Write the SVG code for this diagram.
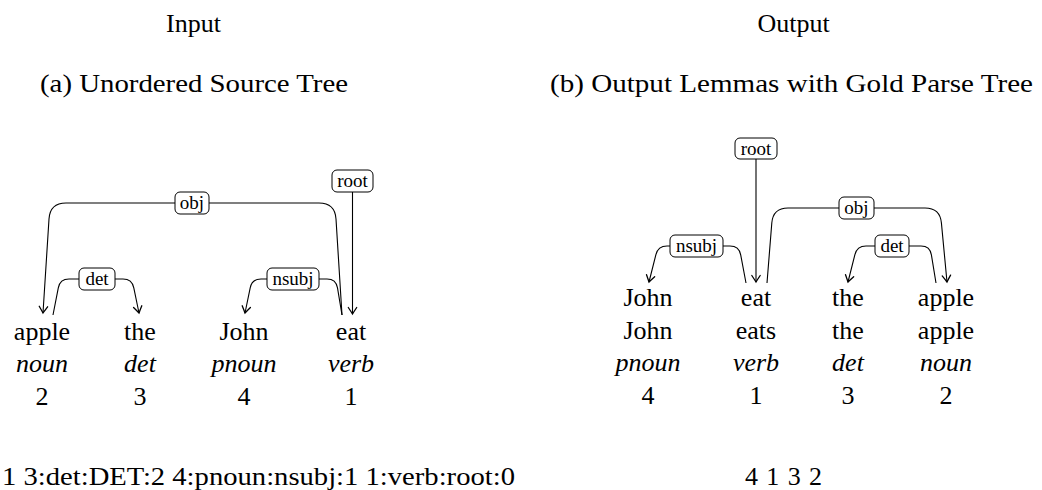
<svg xmlns="http://www.w3.org/2000/svg" width="1042" height="490" viewBox="0 0 1042 490">
  <style>
    text { font-family: "Liberation Serif", "DejaVu Serif", "Noto Serif", "Times New Roman", serif; fill: #000; }
    .w { font-size: 26px; text-anchor: middle; }
    .i { font-size: 26px; text-anchor: middle; font-style: italic; }
    .t { font-size: 26px; }
    .lbl { font-size: 19px; text-anchor: middle; }
    .edge { fill: none; stroke: #000; stroke-width: 1.1; marker-end: url(#arr); }
    .box { fill: #fff; stroke: #000; stroke-width: 1; }
  </style>
  <defs>
    <marker id="arr" markerUnits="userSpaceOnUse" markerWidth="14" markerHeight="14" viewBox="-8 -7 10 14" refX="0" refY="0" orient="auto" overflow="visible">
      <path d="M -6.5,-4.2 Q -2,-1.2 0,0 Q -2,1.2 -6.5,4.2" fill="none" stroke="#000" stroke-width="1.3" stroke-linecap="round"/>
    </marker>
  </defs>
  <rect width="1042" height="490" fill="#fff"/>

  <g id="titles">
    <text class="w" x="193.5" y="32">Input</text>
    <text class="w" x="793.5" y="32">Output</text>
    <text class="t" x="40" y="92" textLength="308" lengthAdjust="spacingAndGlyphs">(a) Unordered Source Tree</text>
    <text class="t" x="550" y="92" textLength="483" lengthAdjust="spacingAndGlyphs">(b) Output Lemmas with Gold Parse Tree</text>
  </g>

  <g id="connectors">
    <!-- left tree -->
    <path class="edge" d="M342,315 L336,219 Q335,203 319,203 L66,203 Q50,203 49,219 L43,313"/>
    <path class="edge" d="M53,315 L58.3,287.8 Q60,279 69,279 L123,279 Q132,279 133.8,287.8 L139,313"/>
    <path class="edge" d="M342,315 L337.5,287.9 Q336,279 327,279 L261,279 Q252,279 250.2,287.8 L245,313"/>
    <path class="edge" d="M352.5,192 L352.5,314"/>
    <!-- right tree -->
    <path class="edge" d="M746,283 L740.7,254.8 Q739,246 730,246 L667,246 Q658,246 655.9,254.7 L649,282"/>
    <path class="edge" d="M767,283 L771.8,223 Q773,208 788,208 L925,208 Q940,208 941.4,222.9 L947,282"/>
    <path class="edge" d="M936,283 L931.4,254.9 Q930,246 921,246 L866,246 Q857,246 854.9,254.7 L848,282"/>
    <path class="edge" d="M756,159 L756,282"/>
    <!-- labels -->
    <g id="lbl-a-obj"><rect class="box" x="175" y="192" width="34" height="22" rx="5"/><text class="lbl" x="192" y="208.5">obj</text></g>
    <g id="lbl-a-det"><rect class="box" x="79" y="268" width="36" height="22" rx="5"/><text class="lbl" x="97" y="284.5">det</text></g>
    <g id="lbl-a-nsubj"><rect class="box" x="267" y="268" width="52" height="22" rx="5"/><text class="lbl" x="293" y="284.5">nsubj</text></g>
    <g id="lbl-a-root"><rect class="box" x="332" y="170" width="41" height="22" rx="5"/><text class="lbl" x="352.5" y="186.5">root</text></g>
    <g id="lbl-b-root"><rect class="box" x="735" y="138" width="42" height="21" rx="5"/><text class="lbl" x="756" y="154.5">root</text></g>
    <g id="lbl-b-nsubj"><rect class="box" x="670" y="235" width="53" height="22" rx="5"/><text class="lbl" x="696.5" y="251.5">nsubj</text></g>
    <g id="lbl-b-obj"><rect class="box" x="839" y="197" width="35" height="22" rx="5"/><text class="lbl" x="856.5" y="213.5">obj</text></g>
    <g id="lbl-b-det"><rect class="box" x="875" y="235" width="34" height="22" rx="5"/><text class="lbl" x="892" y="251.5">det</text></g>
  </g>

  <!-- left nodes -->
  <g id="a-apple"><text class="w" x="42" y="340">apple</text><text class="i" x="42" y="372">noun</text><text class="w" x="42" y="405">2</text></g>
  <g id="a-the"><text class="w" x="140" y="340">the</text><text class="i" x="140" y="372">det</text><text class="w" x="140" y="405">3</text></g>
  <g id="a-john"><text class="w" x="244" y="340">John</text><text class="i" x="244" y="372">pnoun</text><text class="w" x="244" y="405">4</text></g>
  <g id="a-eat"><text class="w" x="351" y="340">eat</text><text class="i" x="351" y="372">verb</text><text class="w" x="351" y="405">1</text></g>

  <!-- right nodes -->
  <g id="b-john"><text class="w" x="648" y="306">John</text><text class="w" x="648" y="339">John</text><text class="i" x="648" y="371">pnoun</text><text class="w" x="648" y="404">4</text></g>
  <g id="b-eat"><text class="w" x="756" y="306">eat</text><text class="w" x="756" y="339">eats</text><text class="i" x="756" y="371">verb</text><text class="w" x="756" y="404">1</text></g>
  <g id="b-the"><text class="w" x="848" y="306">the</text><text class="w" x="848" y="339">the</text><text class="i" x="848" y="371">det</text><text class="w" x="848" y="404">3</text></g>
  <g id="b-apple"><text class="w" x="946" y="306">apple</text><text class="w" x="946" y="339">apple</text><text class="i" x="946" y="371">noun</text><text class="w" x="946" y="404">2</text></g>

  <g id="sequences">
    <text class="t" x="2" y="485" textLength="513" lengthAdjust="spacingAndGlyphs">1 3:det:DET:2 4:pnoun:nsubj:1 1:verb:root:0</text>
    <text class="t" x="745" y="485" textLength="77" lengthAdjust="spacing">4 1 3 2</text>
  </g>
</svg>
